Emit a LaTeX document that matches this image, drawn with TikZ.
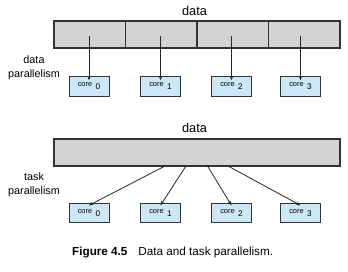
\documentclass[tikz,border=0pt]{standalone}
\usepackage{fontspec}
\setmainfont{Liberation Sans}
\usetikzlibrary{arrows.meta}
\definecolor{bargray}{HTML}{D3D3D3}
\definecolor{coreblue}{HTML}{CCE7F6}
\definecolor{edgegray}{HTML}{333333}
\newcommand{\corelabel}[1]{core\hspace{3.5pt}\raisebox{-3pt}{\fontsize{8.2}{9}\selectfont#1}}
\begin{document}
\begin{tikzpicture}[x=1pt,y=-1pt,
  barbox/.style={draw=edgegray,line width=1.2pt,fill=bargray},
  corebox/.style={draw=edgegray,line width=0.8pt,fill=coreblue,minimum width=40pt,minimum height=19.5pt,inner sep=0pt,font=\fontsize{7.4}{8}\selectfont},
  conn/.style={draw=black!85,line width=0.8pt,-{Stealth[length=4.5pt,width=3.5pt]}},
  lbl/.style={font=\fontsize{10.8}{14}\selectfont,align=center,inner sep=0pt},
  ttl/.style={font=\fontsize{12.8}{14}\selectfont,inner sep=0pt}]
\useasboundingbox (0,0) rectangle (348,271);
% top part
\node[ttl] (t1) at (194.5,11) {data};
\node[barbox,minimum width=286pt,minimum height=27pt,inner sep=0pt] (bar1) at (197,34.5) {};
\coordinate (d1) at (125.5,21); \coordinate (d1b) at (125.5,48);
\coordinate (d2) at (197,21); \coordinate (d2b) at (197,48);
\coordinate (d3) at (268.5,21); \coordinate (d3b) at (268.5,48);
\draw[draw=edgegray,line width=1.2pt] (d1) -- (d1b) (d2) -- (d2b) (d3) -- (d3b);
\node[lbl] (l1) at (34,67.5) {data\\parallelism};
\foreach \i/\x in {0/89,1/160.5,2/231.5,3/300.5}{
  \node[corebox] (a\i) at (\x,86.5) {\corelabel{\i}};
  \coordinate (s\i) at (\x,36);
  \draw[conn] (s\i) -- ([yshift=-4pt]a\i.north);
}
% bottom part
\node[ttl] (t2) at (194.5,127.5) {data};
\node[barbox,minimum width=286pt,minimum height=27pt,inner sep=0pt] (bar2) at (197,152.5) {};
\node[lbl] (l2) at (34,185) {task\\parallelism};
\foreach \i/\x/\sx in {0/89/165,1/160.5/186,2/231.5/207.5,3/300.5/228}{
  \node[corebox] (b\i) at (\x,213) {\corelabel{\i}};
  \coordinate (u\i) at (\sx,166);
  \draw[conn] (u\i) -- ([yshift=-2.5pt]b\i.north);
}
\node[inner sep=0pt,anchor=west,font=\fontsize{11.7}{13}\selectfont] (cap) at (72,252) {\textbf{Figure 4.5}\hspace{11pt}Data and task parallelism.};
\end{tikzpicture}
\end{document}
